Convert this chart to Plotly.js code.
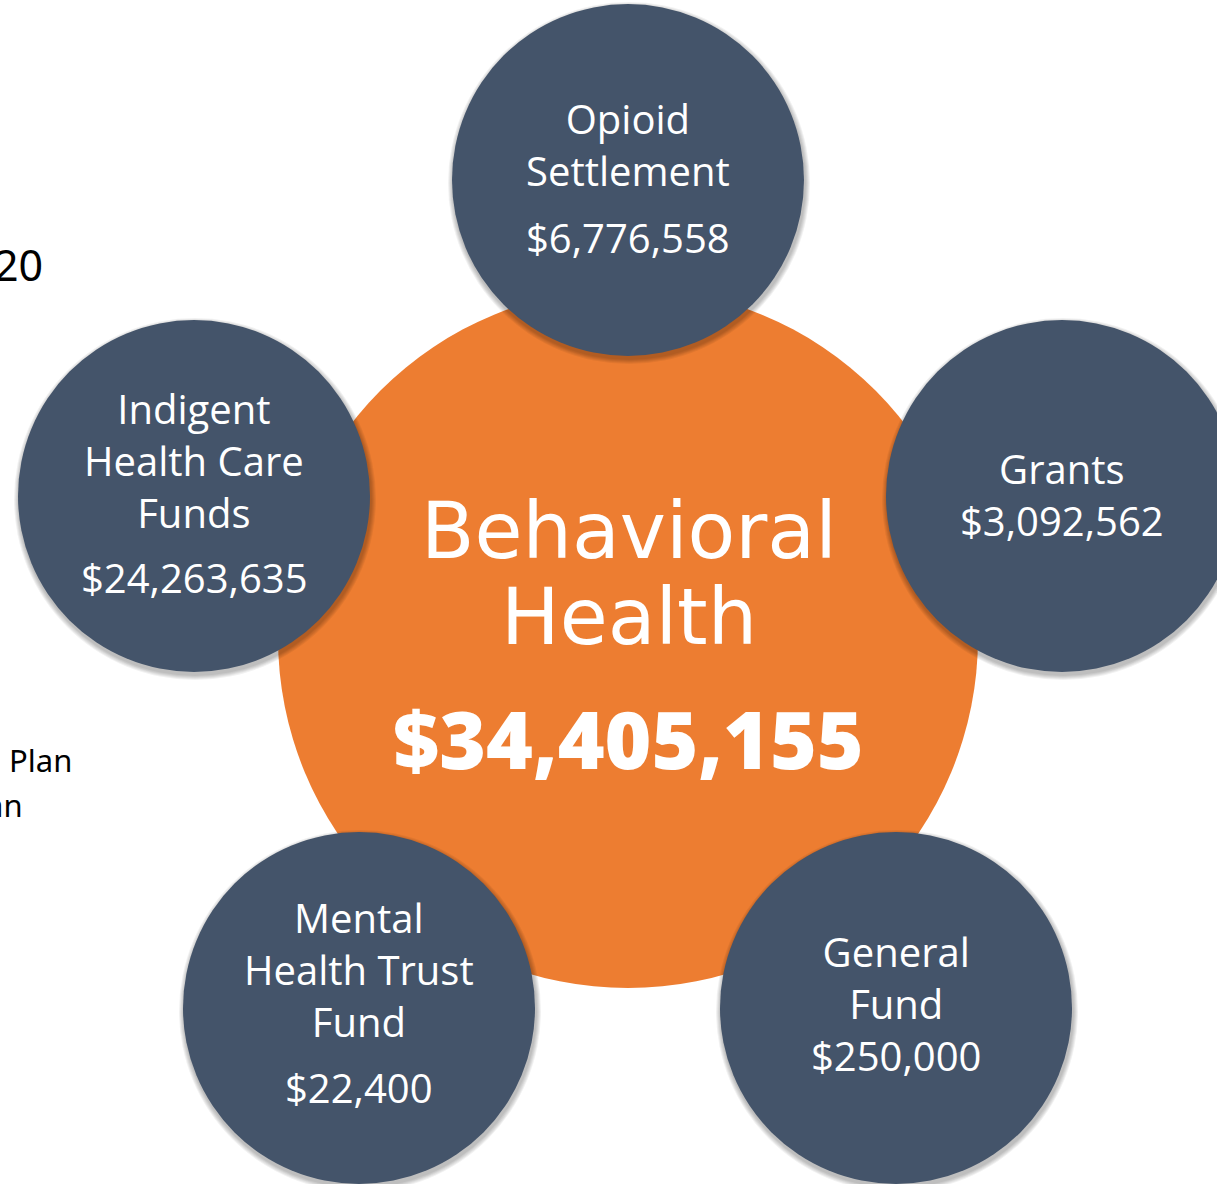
<!DOCTYPE html>
<html>
<head>
<meta charset="utf-8">
<script src="https://cdn.plot.ly/plotly-3.0.1.min.js"></script>
<style>html,body{margin:0;padding:0;background:#fff;}#chart{width:1217px;height:1184px;}</style>
</head>
<body>
<div id="chart"></div>
<script>
// ---- data ----
const categories = ["Opioid Settlement", "Grants", "General Fund", "Mental Health Trust Fund", "Indigent Health Care Funds"];
const labelLines = [["Opioid", "Settlement"], ["Grants"], ["General", "Fund"], ["Mental", "Health Trust", "Fund"], ["Indigent", "Health Care", "Funds"]];
const amounts = [6776558, 3092562, 250000, 22400, 24263635];
const centerLines = ["Behavioral", "Health"];
const centerTotal = 34405155;
const sideTexts = ["20", "Plan", "an"];

// ---- layout config ----
const W = 1217, H = 1184;
const hub = {cx: 628, cy: 638, r: 350};
const nodeR = 176;
// combined: amount is written as the last line of the same text block
const nodes = [
  {cx: 628, cy: 180, blockY: 144, amountY: 237, combined: false},
  {cx: 1062, cy: 496, blockY: 494, combined: true},
  {cx: 896, cy: 1008, blockY: 1003, combined: true},
  {cx: 359, cy: 1008, blockY: 969, amountY: 1087, combined: false},
  {cx: 194, cy: 496, blockY: 460, amountY: 577, combined: false}
];
const sidePos = [
  {x: 45, y: 264, size: 43},
  {x: 74, y: 760, size: 31},
  {x: 25, y: 805, size: 31}
];
const ORANGE = "#ED7D31", SLATE = "#44546A";
const fmt = v => "$" + v.toLocaleString("en-US");
const labelFont = {family: "Open Sans", size: 40, color: "#fff"};

const shapes = [];
const annotations = [];

shapes.push({type: "circle", xref: "x", yref: "y", x0: hub.cx - hub.r, x1: hub.cx + hub.r,
  y0: hub.cy - hub.r, y1: hub.cy + hub.r, fillcolor: ORANGE, line: {width: 0}});

categories.forEach((cat, i) => {
  const n = nodes[i];
  for (let k = 5; k >= 1; k--) {
    shapes.push({type: "circle", xref: "x", yref: "y",
      x0: n.cx + 1 - nodeR - k, x1: n.cx + 1 + nodeR + k,
      y0: n.cy + 3 - nodeR - k, y1: n.cy + 3 + nodeR + k,
      fillcolor: "rgba(0,0,0,0.055)", line: {width: 0}});
  }
  shapes.push({type: "circle", xref: "x", yref: "y", x0: n.cx - nodeR, x1: n.cx + nodeR,
    y0: n.cy - nodeR, y1: n.cy + nodeR, fillcolor: SLATE, line: {width: 0}});
  const lines = labelLines[i].slice();
  if (n.combined) lines.push(fmt(amounts[i]));
  annotations.push({x: n.cx, y: n.blockY, xref: "x", yref: "y", text: lines.join("<br>"),
    showarrow: false, borderpad: 0, align: "center",
    xanchor: "center", yanchor: "middle", font: labelFont});
  if (!n.combined) {
    annotations.push({x: n.cx, y: n.amountY, xref: "x", yref: "y", text: fmt(amounts[i]),
      showarrow: false, borderpad: 0,
      xanchor: "center", yanchor: "middle", font: labelFont});
  }
});

const centerY = [531, 617];
centerLines.forEach((t, j) => {
  annotations.push({x: 629, y: centerY[j], xref: "x", yref: "y", text: t, showarrow: false,
    height: 84, borderpad: 0,
    xanchor: "center", yanchor: "middle", font: {family: "DejaVu Sans", size: 78, color: "#fff"}});
});
annotations.push({x: 628, y: 737, xref: "x", yref: "y", text: fmt(centerTotal), showarrow: false,
  xanchor: "center", yanchor: "middle", font: {family: "Open Sans", size: 80, weight: 800, color: "#fff"}});

sideTexts.forEach((t, j) => {
  const p = sidePos[j];
  annotations.push({x: p.x, y: p.y, xref: "x", yref: "y", text: t, showarrow: false,
    xanchor: "right", yanchor: "middle", font: {family: "Noto Sans", size: p.size, color: "#000"}});
});

const layout = {
  width: W, height: H,
  margin: {l: 0, r: 0, t: 0, b: 0, pad: 0},
  paper_bgcolor: "#fff", plot_bgcolor: "#fff",
  xaxis: {range: [0, W], visible: false, fixedrange: true},
  yaxis: {range: [H, 0], visible: false, fixedrange: true},
  showlegend: false,
  shapes: shapes,
  annotations: annotations
};

Plotly.newPlot("chart", [{x: [], y: [], type: "scatter", mode: "markers", hoverinfo: "skip"}], layout,
  {displayModeBar: false, staticPlot: true});
</script>
</body>
</html>
